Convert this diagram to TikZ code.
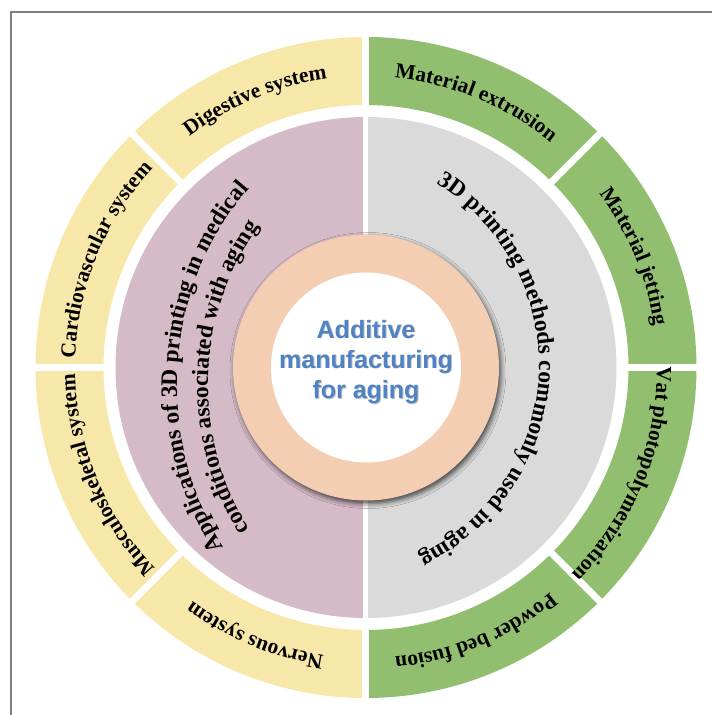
\documentclass[tikz,border=0pt]{standalone}
\usepackage{fontspec}
\setmainfont{Liberation Serif}
\newfontfamily\titlesans{Liberation Sans}
\usetikzlibrary{decorations.text,shadows.blur}

\definecolor{segyellow}{RGB}{247,231,168}
\definecolor{seggreen}{RGB}{146,191,111}
\definecolor{diskpurple}{RGB}{213,186,200}
\definecolor{diskgray}{RGB}{218,218,218}
\definecolor{ringpeach}{RGB}{244,206,179}
\definecolor{titleblue}{RGB}{80,130,198}
\definecolor{framegray}{RGB}{128,128,128}

\newcommand\ringfont{\bfseries\fontsize{21.5}{26}\selectfont}
\newcommand\innerfont{\bfseries\fontsize{23.5}{28}\selectfont}

\tikzset{
  arclabel/.style={decorate, decoration={text along path, text align=center, text={|\ringfont|#1}}},
  innerlabel/.style={decorate, decoration={text along path, text align=center, text={|\innerfont|#1}}},
  gapline/.style={white, line width=7pt},
  titletext/.style={font=\titlesans\bfseries\fontsize{25}{30}\selectfont, text=titleblue, inner sep=0pt, anchor=base},
  titleshade/.style={titletext, text=black, opacity=0.25},
}

\begin{document}
\begin{tikzpicture}[x=1pt,y=1pt]
\useasboundingbox (-366,-347.5) rectangle (346,367.5);
\fill[white] (-366,-347.5) rectangle (346,367.5);
\draw[framegray, line width=1.6pt] (-355,-347.5) -- (-355,355.5) -- (346,355.5);

% outer ring: eight sectors of 45 degrees
\foreach \a/\c in {90/segyellow,135/segyellow,180/segyellow,225/segyellow,
                   270/seggreen,315/seggreen,0/seggreen,45/seggreen}
  \fill[\c] (\a:262.5pt) arc[start angle=\a, end angle=\a+45, radius=262.5pt]
        -- (\a+45:330.5pt) arc[start angle=\a+45, end angle=\a, radius=330.5pt] -- cycle;
\foreach \a in {0,45,...,315}
  \draw[gapline] (\a:256pt) -- (\a:336pt);

% middle disk, two halves
\fill[diskpurple] (90:250.5pt) arc[start angle=90, end angle=270, radius=250.5pt] -- cycle;
\fill[diskgray] (-90:250.5pt) arc[start angle=-90, end angle=90, radius=250.5pt] -- cycle;
\draw[white, line width=5pt] (0,-252) -- (0,252);

% central ring
\fill[ringpeach, blur shadow={shadow xshift=2pt, shadow yshift=-3pt,
      shadow blur radius=5pt, shadow opacity=70}] (0,0) circle[radius=133pt];
\fill[white] (0,0) circle[radius=95pt];

% centre title
\node[titleshade] (t1s) at (1,28.5) {Additive};
\node[titleshade] (t2s) at (1,-1.5) {manufacturing};
\node[titleshade] (t3s) at (1,-31.5) {for aging};
\node[titletext] (t1) at (0,29.5) {Additive};
\node[titletext] (t2) at (0,-0.5) {manufacturing};
\node[titletext] (t3) at (0,-30.5) {for aging};

% labels of the outer ring
\path[arclabel={Cardiovascular system}] (180:291pt) arc[start angle=180, end angle=135, radius=291pt];
\path[arclabel={Digestive system}] (135:291pt) arc[start angle=135, end angle=90, radius=291pt];
\path[arclabel={Material extrusion}] (90:291pt) arc[start angle=90, end angle=45, radius=291pt];
\path[arclabel={Material jetting}] (45:291pt) arc[start angle=45, end angle=0, radius=291pt];
\path[arclabel={Vat photopolymerization}] (0:291pt) arc[start angle=0, end angle=-45, radius=291pt];
\path[arclabel={Powder bed fusion}] (-45:291pt) arc[start angle=-45, end angle=-90, radius=291pt];
\path[arclabel={Nervous system}] (-90:291pt) arc[start angle=-90, end angle=-135, radius=291pt];
\path[arclabel={Musculoskeletal system}] (-135:291pt) arc[start angle=-135, end angle=-180, radius=291pt];

% headings of the two halves
\path[innerlabel={Applications of 3D printing in medical}]
  ([shift={(114,-17.5)}]221:303pt) arc[start angle=221, end angle=131, radius=303pt];
\path[innerlabel={conditions associated with aging}]
  ([shift={(114,-17.5)}]225:272pt) arc[start angle=225, end angle=131.4, radius=272pt];
\path[innerlabel={3D printing methods commonly used in aging}]
  ([shift={(-38,2.5)}]70:211pt) arc[start angle=70, end angle=-75.4, radius=211pt];
\end{tikzpicture}
\end{document}
